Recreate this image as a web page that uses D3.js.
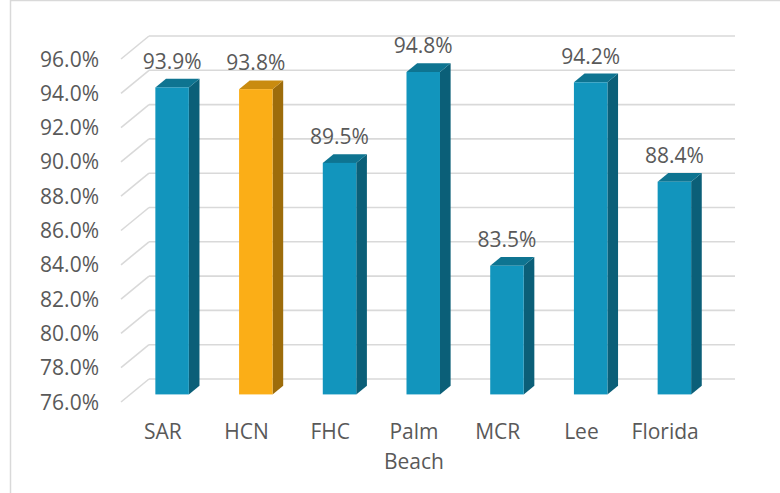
<!DOCTYPE html>
<meta charset="utf-8">
<title>Rates by region</title>
<script src="https://cdn.jsdelivr.net/npm/d3@7"></script>
<style>
    body { margin: 0; background: #fff; }
    text { font-family: "Open Sans", sans-serif; fill: #595959; font-size: 21px; }
</style>
<body>
<svg id="chart" width="780" height="493"></svg>
<script>
    // data
    var categories = ["SAR", "HCN", "FHC", "Palm Beach", "MCR", "Lee", "Florida"];
    var values = [93.9, 93.8, 89.5, 94.8, 83.5, 94.2, 88.4];
    var highlight = "HCN";
    var ticks = [76, 78, 80, 82, 84, 86, 88, 90, 92, 94, 96];

    var svg = d3.select("#chart");

    // depth of the 3d box (front plane -> back wall)
    var depthX = 28, depthY = -23;
    var barT0 = 0.33, barT1 = 0.71;

    var x = d3.scaleBand().domain(categories).range([121, 707]);
    var y = d3.scaleLinear().domain([76, 96]).range([402, 59]);

    // chart border
    svg.append("rect")
        .attr("x", 10.5).attr("y", 0.5)
        .attr("width", 800).attr("height", 520)
        .attr("fill", "none").attr("stroke", "#d9d9d9").attr("stroke-width", 1.5);

    // back wall gridlines + left side wall diagonals
    var grid = svg.append("g").attr("stroke", "#d9d9d9").attr("stroke-width", 1.6).attr("fill", "none");
    ticks.forEach(function (t) {
        var yb = y(t) + depthY;
        grid.append("line")
            .attr("x1", x.range()[0] + depthX).attr("x2", x.range()[1] + depthX)
            .attr("y1", yb).attr("y2", yb);
        grid.append("line")
            .attr("x1", x.range()[0]).attr("y1", y(t))
            .attr("x2", x.range()[0] + depthX).attr("y2", yb);
    });

    // y axis labels
    svg.append("g").selectAll("text").data(ticks).join("text")
        .attr("x", 99).attr("y", function (d) { return y(d); })
        .attr("dy", "0.36em")
        .attr("text-anchor", "end")
        .text(function (d) { return d.toFixed(1) + "%"; });

    // bars
    var bw = x.bandwidth() * 0.4;
    var ddx = (barT1 - barT0) * depthX, ddy = (barT1 - barT0) * depthY;
    var bars = svg.append("g").selectAll("g").data(categories).join("g");

    bars.each(function (c, i) {
        var g = d3.select(this);
        var v = values[i];
        var isHi = c === highlight;
        var cFront = isHi ? "#fbae17" : "#1295bd";
        var cTop = isHi ? "#c98b0f" : "#0e7491";
        var cSide = isHi ? "#9d6c0b" : "#0b5f78";
        var x0 = x(c) + x.bandwidth() / 2 - bw / 2 + barT0 * depthX;
        var x1 = x0 + bw;
        var yt = y(v) + barT0 * depthY;
        var yb = y(76) + barT0 * depthY;

        g.append("path")
            .attr("d", "M" + x1 + "," + yt + "L" + (x1 + ddx) + "," + (yt + ddy) +
                "L" + (x1 + ddx) + "," + (yb + ddy) + "L" + x1 + "," + yb + "Z")
            .attr("fill", cSide);
        g.append("path")
            .attr("d", "M" + x0 + "," + yt + "L" + (x0 + ddx) + "," + (yt + ddy) +
                "L" + (x1 + ddx) + "," + (yt + ddy) + "L" + x1 + "," + yt + "Z")
            .attr("fill", cTop);
        g.append("rect")
            .attr("x", x0).attr("y", yt)
            .attr("width", bw).attr("height", yb - yt)
            .attr("fill", cFront);

        // value label
        g.append("text")
            .attr("x", (x0 + x1) / 2)
            .attr("y", yt + ddy - 10)
            .attr("text-anchor", "middle")
            .text(v.toFixed(1) + "%");
    });

    // category labels (wrap on space for Palm Beach)
    svg.append("g").selectAll("text").data(categories).join("text")
        .attr("x", function (d) { return x(d) + x.bandwidth() / 2; })
        .attr("y", 439)
        .attr("text-anchor", "middle")
        .each(function (d) {
            var words = d.split(" ");
            var t = d3.select(this);
            words.forEach(function (w, k) {
                t.append("tspan")
                    .attr("x", x(d) + x.bandwidth() / 2)
                    .attr("dy", k === 0 ? 0 : 30)
                    .text(w);
            });
        });
</script>
</body>
